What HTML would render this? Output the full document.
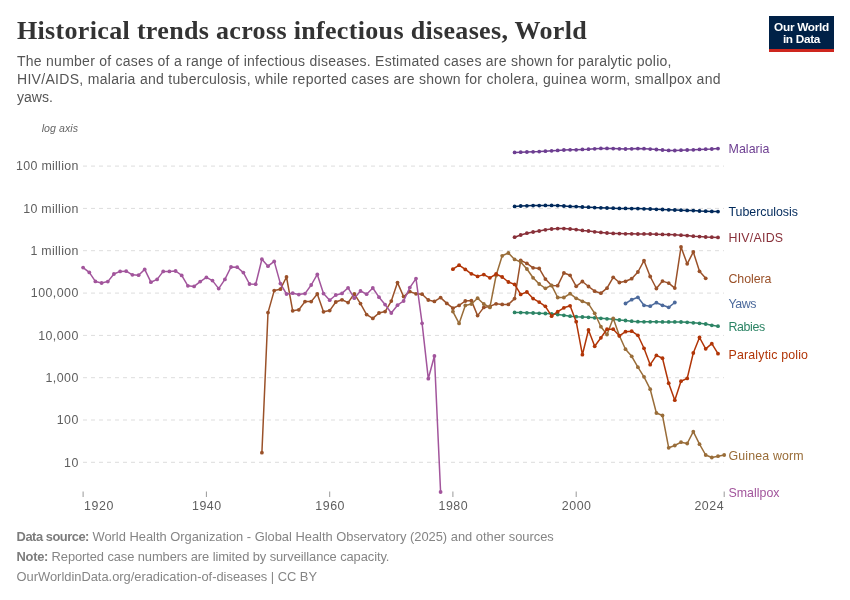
<!DOCTYPE html>
<html lang="en">
<head>
<meta charset="utf-8">
<title>Historical trends across infectious diseases, World</title>
<style>
html,body{margin:0;padding:0;background:#fff;}
body{width:850px;height:600px;position:relative;overflow:hidden;font-family:"Liberation Sans",sans-serif;}
.title{position:absolute;left:17px;top:15.2px;margin:0;font-family:"Liberation Serif",serif;font-weight:bold;font-size:26px;line-height:32px;color:#333;white-space:nowrap;letter-spacing:0.33px;}
.subtitle{position:absolute;left:17px;top:52.35px;margin:0;font-size:14px;line-height:18px;color:#555;white-space:nowrap;}
.subtitle span{display:block;}
#s1{letter-spacing:0.257px;}
#s2{letter-spacing:0.3px;}
#s3{letter-spacing:0.04px;}
.logo{position:absolute;left:769px;top:16px;width:65px;height:36px;background:#002147;color:#fff;font-weight:bold;font-size:11.8px;line-height:12px;text-align:center;letter-spacing:-0.3px;overflow:hidden;}
.logo span{display:block;}
.logo span:first-child{padding-top:4.9px;}
.logo i{position:absolute;left:0;right:0;bottom:0;height:2.8px;background:#ce261e;}
.chart{position:absolute;left:0;top:0;}
.chart text{font-family:"Liberation Sans",sans-serif;}
.footer{position:absolute;left:16.6px;top:527.1px;font-size:12.9px;line-height:20px;color:#858585;white-space:nowrap;}
.footer div{height:20px;}
.footer b{font-weight:bold;color:#7c7c7c;}
#f1 b{letter-spacing:-0.48px;}
#f2 b{letter-spacing:-0.29px;}
#f1 span{letter-spacing:-0.008px;}
#f2 span{letter-spacing:-0.089px;}
#f3 span{letter-spacing:-0.015px;}
</style>
</head>
<body>
<h1 class="title">Historical trends across infectious diseases, World</h1>
<p class="subtitle"><span id="s1">The number of cases of a range of infectious diseases. Estimated cases are shown for paralytic polio,</span><span id="s2">HIV/AIDS, malaria and tuberculosis, while reported cases are shown for cholera, guinea worm, smallpox and</span><span id="s3">yaws.</span></p>
<div class="logo"><span>Our World</span><span>in Data</span><i></i></div>
<svg class="chart" width="850" height="600" viewBox="0 0 850 600">
<g class="grid" stroke="#dddddd" stroke-width="1" stroke-dasharray="4,4" fill="none">
<line x1="83" y1="166.1" x2="724" y2="166.1"/>
<line x1="83" y1="208.4" x2="724" y2="208.4"/>
<line x1="83" y1="250.7" x2="724" y2="250.7"/>
<line x1="83" y1="293.1" x2="724" y2="293.1"/>
<line x1="83" y1="335.4" x2="724" y2="335.4"/>
<line x1="83" y1="377.7" x2="724" y2="377.7"/>
<line x1="83" y1="420.0" x2="724" y2="420.0"/>
<line x1="83" y1="462.3" x2="724" y2="462.3"/>
</g>
<g class="ylab" font-size="12.4" fill="#5e5e5e" text-anchor="end" >
<text x="78.60" y="170.3" letter-spacing="0.3">100 million</text>
<text x="78.60" y="212.6" letter-spacing="0.3">10 million</text>
<text x="78.60" y="254.9" letter-spacing="0.3">1 million</text>
<text x="78.75" y="297.3" letter-spacing="0.45">100,000</text>
<text x="78.75" y="339.6" letter-spacing="0.45">10,000</text>
<text x="78.75" y="381.9" letter-spacing="0.45">1,000</text>
<text x="78.75" y="424.2" letter-spacing="0.45">100</text>
<text x="78.75" y="466.5" letter-spacing="0.45">10</text>
</g>
<text class="logax" x="41.7" y="132.2" font-size="10.6" font-style="italic" fill="#666" textLength="36.3" lengthAdjust="spacing">log axis</text>
<g stroke="#999" stroke-width="1">
<line x1="83.1" y1="491.5" x2="83.1" y2="497"/>
<line x1="206.4" y1="491.5" x2="206.4" y2="497"/>
<line x1="329.7" y1="491.5" x2="329.7" y2="497"/>
<line x1="452.9" y1="491.5" x2="452.9" y2="497"/>
<line x1="576.2" y1="491.5" x2="576.2" y2="497"/>
<line x1="724.2" y1="491.5" x2="724.2" y2="497"/>
</g>
<g class="xlab" font-size="12.4" fill="#5e5e5e" >
<text x="84.1" y="510" text-anchor="start" textLength="29.2" lengthAdjust="spacing">1920</text>
<text x="206.6" y="510" text-anchor="middle" textLength="29.2" lengthAdjust="spacing">1940</text>
<text x="329.9" y="510" text-anchor="middle" textLength="29.2" lengthAdjust="spacing">1960</text>
<text x="453.1" y="510" text-anchor="middle" textLength="29.2" lengthAdjust="spacing">1980</text>
<text x="576.4" y="510" text-anchor="middle" textLength="29.2" lengthAdjust="spacing">2000</text>
<text x="723.6" y="510" text-anchor="end" textLength="29.2" lengthAdjust="spacing">2024</text>
</g>
<g class="series" stroke="#2C8465" fill="#2C8465">
<path d="M514.6,312.4 L520.7,312.6 L526.9,312.8 L533.1,313.0 L539.2,313.3 L545.4,313.5 L551.6,313.8 L557.7,314.5 L563.9,315.3 L570.1,316.2 L576.2,316.7 L582.4,317.0 L588.5,317.3 L594.7,317.8 L600.9,318.3 L607.0,318.8 L613.2,319.3 L619.4,320.0 L625.5,320.5 L631.7,321.2 L637.9,321.7 L644.0,321.8 L650.2,321.8 L656.4,321.8 L662.5,321.9 L668.7,321.9 L674.8,321.9 L681.0,322.0 L687.2,322.3 L693.3,322.8 L699.5,323.3 L705.7,324.0 L711.8,325.3 L718.0,326.2" fill="none" stroke-width="1.5" stroke-linejoin="round" stroke-linecap="round"/>
<g stroke="none"><circle cx="514.6" cy="312.4" r="1.9"/><circle cx="520.7" cy="312.6" r="1.9"/><circle cx="526.9" cy="312.8" r="1.9"/><circle cx="533.1" cy="313.0" r="1.9"/><circle cx="539.2" cy="313.3" r="1.9"/><circle cx="545.4" cy="313.5" r="1.9"/><circle cx="551.6" cy="313.8" r="1.9"/><circle cx="557.7" cy="314.5" r="1.9"/><circle cx="563.9" cy="315.3" r="1.9"/><circle cx="570.1" cy="316.2" r="1.9"/><circle cx="576.2" cy="316.7" r="1.9"/><circle cx="582.4" cy="317.0" r="1.9"/><circle cx="588.5" cy="317.3" r="1.9"/><circle cx="594.7" cy="317.8" r="1.9"/><circle cx="600.9" cy="318.3" r="1.9"/><circle cx="607.0" cy="318.8" r="1.9"/><circle cx="613.2" cy="319.3" r="1.9"/><circle cx="619.4" cy="320.0" r="1.9"/><circle cx="625.5" cy="320.5" r="1.9"/><circle cx="631.7" cy="321.2" r="1.9"/><circle cx="637.9" cy="321.7" r="1.9"/><circle cx="644.0" cy="321.8" r="1.9"/><circle cx="650.2" cy="321.8" r="1.9"/><circle cx="656.4" cy="321.8" r="1.9"/><circle cx="662.5" cy="321.9" r="1.9"/><circle cx="668.7" cy="321.9" r="1.9"/><circle cx="674.8" cy="321.9" r="1.9"/><circle cx="681.0" cy="322.0" r="1.9"/><circle cx="687.2" cy="322.3" r="1.9"/><circle cx="693.3" cy="322.8" r="1.9"/><circle cx="699.5" cy="323.3" r="1.9"/><circle cx="705.7" cy="324.0" r="1.9"/><circle cx="711.8" cy="325.3" r="1.9"/><circle cx="718.0" cy="326.2" r="1.9"/></g>
<text x="728.5" y="330.7" font-size="12.4" stroke="none" textLength="36.7" lengthAdjust="spacing">Rabies</text>
</g>
<g class="series" stroke="#9A5129" fill="#9A5129">
<path d="M261.9,452.7 L268.0,312.6 L274.2,290.6 L280.4,289.2 L286.5,277.0 L292.7,310.8 L298.8,309.8 L305.0,301.6 L311.2,301.6 L317.3,294.0 L323.5,311.8 L329.7,310.6 L335.8,302.0 L342.0,299.8 L348.1,302.6 L354.3,293.8 L360.5,303.6 L366.6,314.6 L372.8,318.4 L379.0,313.0 L385.1,311.6 L391.3,301.1 L397.5,282.6 L403.6,296.6 L409.8,291.6 L416.0,293.8 L422.1,294.2 L428.3,300.0 L434.4,301.4 L440.6,297.6 L446.8,303.4 L452.9,308.2 L459.1,305.4 L465.3,301.0 L471.4,300.6 L477.6,315.6 L483.8,307.4 L489.9,306.4 L496.1,303.8 L502.2,304.4 L508.4,304.4 L514.6,298.6 L520.7,260.4 L526.9,263.4 L533.1,267.8 L539.2,268.4 L545.4,279.1 L551.6,285.6 L557.7,285.7 L563.9,273.0 L570.1,275.3 L576.2,286.3 L582.4,281.5 L588.5,286.5 L594.7,291.2 L600.9,293.2 L607.0,288.2 L613.2,277.3 L619.4,282.5 L625.5,281.3 L631.7,278.7 L637.9,272.0 L644.0,260.7 L650.2,276.5 L656.4,288.5 L662.5,281.1 L668.7,283.1 L674.8,288.1 L681.0,247.0 L687.2,263.8 L693.3,252.0 L699.5,271.3 L705.7,278.3" fill="none" stroke-width="1.5" stroke-linejoin="round" stroke-linecap="round"/>
<g stroke="none"><circle cx="261.9" cy="452.7" r="1.9"/><circle cx="268.0" cy="312.6" r="1.9"/><circle cx="274.2" cy="290.6" r="1.9"/><circle cx="280.4" cy="289.2" r="1.9"/><circle cx="286.5" cy="277.0" r="1.9"/><circle cx="292.7" cy="310.8" r="1.9"/><circle cx="298.8" cy="309.8" r="1.9"/><circle cx="305.0" cy="301.6" r="1.9"/><circle cx="311.2" cy="301.6" r="1.9"/><circle cx="317.3" cy="294.0" r="1.9"/><circle cx="323.5" cy="311.8" r="1.9"/><circle cx="329.7" cy="310.6" r="1.9"/><circle cx="335.8" cy="302.0" r="1.9"/><circle cx="342.0" cy="299.8" r="1.9"/><circle cx="348.1" cy="302.6" r="1.9"/><circle cx="354.3" cy="293.8" r="1.9"/><circle cx="360.5" cy="303.6" r="1.9"/><circle cx="366.6" cy="314.6" r="1.9"/><circle cx="372.8" cy="318.4" r="1.9"/><circle cx="379.0" cy="313.0" r="1.9"/><circle cx="385.1" cy="311.6" r="1.9"/><circle cx="391.3" cy="301.1" r="1.9"/><circle cx="397.5" cy="282.6" r="1.9"/><circle cx="403.6" cy="296.6" r="1.9"/><circle cx="409.8" cy="291.6" r="1.9"/><circle cx="416.0" cy="293.8" r="1.9"/><circle cx="422.1" cy="294.2" r="1.9"/><circle cx="428.3" cy="300.0" r="1.9"/><circle cx="434.4" cy="301.4" r="1.9"/><circle cx="440.6" cy="297.6" r="1.9"/><circle cx="446.8" cy="303.4" r="1.9"/><circle cx="452.9" cy="308.2" r="1.9"/><circle cx="459.1" cy="305.4" r="1.9"/><circle cx="465.3" cy="301.0" r="1.9"/><circle cx="471.4" cy="300.6" r="1.9"/><circle cx="477.6" cy="315.6" r="1.9"/><circle cx="483.8" cy="307.4" r="1.9"/><circle cx="489.9" cy="306.4" r="1.9"/><circle cx="496.1" cy="303.8" r="1.9"/><circle cx="502.2" cy="304.4" r="1.9"/><circle cx="508.4" cy="304.4" r="1.9"/><circle cx="514.6" cy="298.6" r="1.9"/><circle cx="520.7" cy="260.4" r="1.9"/><circle cx="526.9" cy="263.4" r="1.9"/><circle cx="533.1" cy="267.8" r="1.9"/><circle cx="539.2" cy="268.4" r="1.9"/><circle cx="545.4" cy="279.1" r="1.9"/><circle cx="551.6" cy="285.6" r="1.9"/><circle cx="557.7" cy="285.7" r="1.9"/><circle cx="563.9" cy="273.0" r="1.9"/><circle cx="570.1" cy="275.3" r="1.9"/><circle cx="576.2" cy="286.3" r="1.9"/><circle cx="582.4" cy="281.5" r="1.9"/><circle cx="588.5" cy="286.5" r="1.9"/><circle cx="594.7" cy="291.2" r="1.9"/><circle cx="600.9" cy="293.2" r="1.9"/><circle cx="607.0" cy="288.2" r="1.9"/><circle cx="613.2" cy="277.3" r="1.9"/><circle cx="619.4" cy="282.5" r="1.9"/><circle cx="625.5" cy="281.3" r="1.9"/><circle cx="631.7" cy="278.7" r="1.9"/><circle cx="637.9" cy="272.0" r="1.9"/><circle cx="644.0" cy="260.7" r="1.9"/><circle cx="650.2" cy="276.5" r="1.9"/><circle cx="656.4" cy="288.5" r="1.9"/><circle cx="662.5" cy="281.1" r="1.9"/><circle cx="668.7" cy="283.1" r="1.9"/><circle cx="674.8" cy="288.1" r="1.9"/><circle cx="681.0" cy="247.0" r="1.9"/><circle cx="687.2" cy="263.8" r="1.9"/><circle cx="693.3" cy="252.0" r="1.9"/><circle cx="699.5" cy="271.3" r="1.9"/><circle cx="705.7" cy="278.3" r="1.9"/></g>
<text x="728.5" y="283.1" font-size="12.4" stroke="none" textLength="43" lengthAdjust="spacing">Cholera</text>
</g>
<g class="series" stroke="#996D39" fill="#996D39">
<path d="M452.9,311.6 L459.1,323.4 L465.3,305.4 L471.4,304.0 L477.6,298.2 L483.8,304.0 L489.9,307.4 L496.1,275.5 L502.2,255.8 L508.4,253.0 L514.6,259.4 L520.7,262.0 L526.9,269.0 L533.1,277.8 L539.2,284.0 L545.4,288.3 L551.6,285.4 L557.7,297.5 L563.9,297.5 L570.1,293.7 L576.2,298.3 L582.4,301.3 L588.5,303.8 L594.7,313.3 L600.9,326.7 L607.0,334.5 L613.2,318.3 L619.4,335.8 L625.5,349.2 L631.7,356.3 L637.9,367.2 L644.0,376.8 L650.2,389.2 L656.4,413.0 L662.5,415.5 L668.7,447.8 L674.8,445.5 L681.0,442.2 L687.2,443.5 L693.3,431.7 L699.5,444.2 L705.7,455.0 L711.8,457.5 L718.0,456.2 L724.2,455.0" fill="none" stroke-width="1.5" stroke-linejoin="round" stroke-linecap="round"/>
<g stroke="none"><circle cx="452.9" cy="311.6" r="1.9"/><circle cx="459.1" cy="323.4" r="1.9"/><circle cx="465.3" cy="305.4" r="1.9"/><circle cx="471.4" cy="304.0" r="1.9"/><circle cx="477.6" cy="298.2" r="1.9"/><circle cx="483.8" cy="304.0" r="1.9"/><circle cx="489.9" cy="307.4" r="1.9"/><circle cx="496.1" cy="275.5" r="1.9"/><circle cx="502.2" cy="255.8" r="1.9"/><circle cx="508.4" cy="253.0" r="1.9"/><circle cx="514.6" cy="259.4" r="1.9"/><circle cx="520.7" cy="262.0" r="1.9"/><circle cx="526.9" cy="269.0" r="1.9"/><circle cx="533.1" cy="277.8" r="1.9"/><circle cx="539.2" cy="284.0" r="1.9"/><circle cx="545.4" cy="288.3" r="1.9"/><circle cx="551.6" cy="285.4" r="1.9"/><circle cx="557.7" cy="297.5" r="1.9"/><circle cx="563.9" cy="297.5" r="1.9"/><circle cx="570.1" cy="293.7" r="1.9"/><circle cx="576.2" cy="298.3" r="1.9"/><circle cx="582.4" cy="301.3" r="1.9"/><circle cx="588.5" cy="303.8" r="1.9"/><circle cx="594.7" cy="313.3" r="1.9"/><circle cx="600.9" cy="326.7" r="1.9"/><circle cx="607.0" cy="334.5" r="1.9"/><circle cx="613.2" cy="318.3" r="1.9"/><circle cx="619.4" cy="335.8" r="1.9"/><circle cx="625.5" cy="349.2" r="1.9"/><circle cx="631.7" cy="356.3" r="1.9"/><circle cx="637.9" cy="367.2" r="1.9"/><circle cx="644.0" cy="376.8" r="1.9"/><circle cx="650.2" cy="389.2" r="1.9"/><circle cx="656.4" cy="413.0" r="1.9"/><circle cx="662.5" cy="415.5" r="1.9"/><circle cx="668.7" cy="447.8" r="1.9"/><circle cx="674.8" cy="445.5" r="1.9"/><circle cx="681.0" cy="442.2" r="1.9"/><circle cx="687.2" cy="443.5" r="1.9"/><circle cx="693.3" cy="431.7" r="1.9"/><circle cx="699.5" cy="444.2" r="1.9"/><circle cx="705.7" cy="455.0" r="1.9"/><circle cx="711.8" cy="457.5" r="1.9"/><circle cx="718.0" cy="456.2" r="1.9"/><circle cx="724.2" cy="455.0" r="1.9"/></g>
<text x="728.5" y="459.7" font-size="12.4" stroke="none" textLength="75.2" lengthAdjust="spacing">Guinea worm</text>
</g>
<g class="series" stroke="#883039" fill="#883039">
<path d="M514.6,237.2 L520.7,235.0 L526.9,233.2 L533.1,232.0 L539.2,231.0 L545.4,229.8 L551.6,229.0 L557.7,228.6 L563.9,228.6 L570.1,229.0 L576.2,229.6 L582.4,230.4 L588.5,231.0 L594.7,231.8 L600.9,232.4 L607.0,233.0 L613.2,233.4 L619.4,233.6 L625.5,233.8 L631.7,233.8 L637.9,234.0 L644.0,233.9 L650.2,234.0 L656.4,234.2 L662.5,234.4 L668.7,234.6 L674.8,234.8 L681.0,235.2 L687.2,235.6 L693.3,236.2 L699.5,236.6 L705.7,237.0 L711.8,237.2 L718.0,237.4" fill="none" stroke-width="1.5" stroke-linejoin="round" stroke-linecap="round"/>
<g stroke="none"><circle cx="514.6" cy="237.2" r="1.9"/><circle cx="520.7" cy="235.0" r="1.9"/><circle cx="526.9" cy="233.2" r="1.9"/><circle cx="533.1" cy="232.0" r="1.9"/><circle cx="539.2" cy="231.0" r="1.9"/><circle cx="545.4" cy="229.8" r="1.9"/><circle cx="551.6" cy="229.0" r="1.9"/><circle cx="557.7" cy="228.6" r="1.9"/><circle cx="563.9" cy="228.6" r="1.9"/><circle cx="570.1" cy="229.0" r="1.9"/><circle cx="576.2" cy="229.6" r="1.9"/><circle cx="582.4" cy="230.4" r="1.9"/><circle cx="588.5" cy="231.0" r="1.9"/><circle cx="594.7" cy="231.8" r="1.9"/><circle cx="600.9" cy="232.4" r="1.9"/><circle cx="607.0" cy="233.0" r="1.9"/><circle cx="613.2" cy="233.4" r="1.9"/><circle cx="619.4" cy="233.6" r="1.9"/><circle cx="625.5" cy="233.8" r="1.9"/><circle cx="631.7" cy="233.8" r="1.9"/><circle cx="637.9" cy="234.0" r="1.9"/><circle cx="644.0" cy="233.9" r="1.9"/><circle cx="650.2" cy="234.0" r="1.9"/><circle cx="656.4" cy="234.2" r="1.9"/><circle cx="662.5" cy="234.4" r="1.9"/><circle cx="668.7" cy="234.6" r="1.9"/><circle cx="674.8" cy="234.8" r="1.9"/><circle cx="681.0" cy="235.2" r="1.9"/><circle cx="687.2" cy="235.6" r="1.9"/><circle cx="693.3" cy="236.2" r="1.9"/><circle cx="699.5" cy="236.6" r="1.9"/><circle cx="705.7" cy="237.0" r="1.9"/><circle cx="711.8" cy="237.2" r="1.9"/><circle cx="718.0" cy="237.4" r="1.9"/></g>
<text x="728.5" y="242.0" font-size="12.4" stroke="none" textLength="54.6" lengthAdjust="spacing">HIV/AIDS</text>
</g>
<g class="series" stroke="#6D3E91" fill="#6D3E91">
<path d="M514.6,152.4 L520.7,152.2 L526.9,152.0 L533.1,151.8 L539.2,151.6 L545.4,151.2 L551.6,150.8 L557.7,150.4 L563.9,150.0 L570.1,149.8 L576.2,149.8 L582.4,149.4 L588.5,149.2 L594.7,148.8 L600.9,148.4 L607.0,148.4 L613.2,148.6 L619.4,148.8 L625.5,149.0 L631.7,148.8 L637.9,148.6 L644.0,148.7 L650.2,149.1 L656.4,149.5 L662.5,150.0 L668.7,150.4 L674.8,150.5 L681.0,150.2 L687.2,150.0 L693.3,149.8 L699.5,149.4 L705.7,149.2 L711.8,149.0 L718.0,148.6" fill="none" stroke-width="1.5" stroke-linejoin="round" stroke-linecap="round"/>
<g stroke="none"><circle cx="514.6" cy="152.4" r="1.9"/><circle cx="520.7" cy="152.2" r="1.9"/><circle cx="526.9" cy="152.0" r="1.9"/><circle cx="533.1" cy="151.8" r="1.9"/><circle cx="539.2" cy="151.6" r="1.9"/><circle cx="545.4" cy="151.2" r="1.9"/><circle cx="551.6" cy="150.8" r="1.9"/><circle cx="557.7" cy="150.4" r="1.9"/><circle cx="563.9" cy="150.0" r="1.9"/><circle cx="570.1" cy="149.8" r="1.9"/><circle cx="576.2" cy="149.8" r="1.9"/><circle cx="582.4" cy="149.4" r="1.9"/><circle cx="588.5" cy="149.2" r="1.9"/><circle cx="594.7" cy="148.8" r="1.9"/><circle cx="600.9" cy="148.4" r="1.9"/><circle cx="607.0" cy="148.4" r="1.9"/><circle cx="613.2" cy="148.6" r="1.9"/><circle cx="619.4" cy="148.8" r="1.9"/><circle cx="625.5" cy="149.0" r="1.9"/><circle cx="631.7" cy="148.8" r="1.9"/><circle cx="637.9" cy="148.6" r="1.9"/><circle cx="644.0" cy="148.7" r="1.9"/><circle cx="650.2" cy="149.1" r="1.9"/><circle cx="656.4" cy="149.5" r="1.9"/><circle cx="662.5" cy="150.0" r="1.9"/><circle cx="668.7" cy="150.4" r="1.9"/><circle cx="674.8" cy="150.5" r="1.9"/><circle cx="681.0" cy="150.2" r="1.9"/><circle cx="687.2" cy="150.0" r="1.9"/><circle cx="693.3" cy="149.8" r="1.9"/><circle cx="699.5" cy="149.4" r="1.9"/><circle cx="705.7" cy="149.2" r="1.9"/><circle cx="711.8" cy="149.0" r="1.9"/><circle cx="718.0" cy="148.6" r="1.9"/></g>
<text x="728.5" y="153.4" font-size="12.4" stroke="none" textLength="41" lengthAdjust="spacing">Malaria</text>
</g>
<g class="series" stroke="#B13507" fill="#B13507">
<path d="M452.9,269.2 L459.1,265.2 L465.3,269.4 L471.4,273.8 L477.6,276.4 L483.8,274.6 L489.9,277.8 L496.1,274.0 L502.2,277.0 L508.4,282.0 L514.6,284.4 L520.7,294.4 L526.9,292.0 L533.1,298.6 L539.2,302.1 L545.4,306.3 L551.6,316.2 L557.7,311.7 L563.9,307.8 L570.1,305.8 L576.2,321.7 L582.4,354.7 L588.5,330.0 L594.7,346.3 L600.9,337.8 L607.0,329.2 L613.2,329.2 L619.4,335.8 L625.5,331.7 L631.7,331.2 L637.9,335.3 L644.0,348.3 L650.2,364.7 L656.4,355.4 L662.5,358.2 L668.7,383.2 L674.8,400.2 L681.0,381.2 L687.2,378.4 L693.3,353.0 L699.5,337.5 L705.7,348.8 L711.8,343.7 L718.0,353.7" fill="none" stroke-width="1.5" stroke-linejoin="round" stroke-linecap="round"/>
<g stroke="none"><circle cx="452.9" cy="269.2" r="1.9"/><circle cx="459.1" cy="265.2" r="1.9"/><circle cx="465.3" cy="269.4" r="1.9"/><circle cx="471.4" cy="273.8" r="1.9"/><circle cx="477.6" cy="276.4" r="1.9"/><circle cx="483.8" cy="274.6" r="1.9"/><circle cx="489.9" cy="277.8" r="1.9"/><circle cx="496.1" cy="274.0" r="1.9"/><circle cx="502.2" cy="277.0" r="1.9"/><circle cx="508.4" cy="282.0" r="1.9"/><circle cx="514.6" cy="284.4" r="1.9"/><circle cx="520.7" cy="294.4" r="1.9"/><circle cx="526.9" cy="292.0" r="1.9"/><circle cx="533.1" cy="298.6" r="1.9"/><circle cx="539.2" cy="302.1" r="1.9"/><circle cx="545.4" cy="306.3" r="1.9"/><circle cx="551.6" cy="316.2" r="1.9"/><circle cx="557.7" cy="311.7" r="1.9"/><circle cx="563.9" cy="307.8" r="1.9"/><circle cx="570.1" cy="305.8" r="1.9"/><circle cx="576.2" cy="321.7" r="1.9"/><circle cx="582.4" cy="354.7" r="1.9"/><circle cx="588.5" cy="330.0" r="1.9"/><circle cx="594.7" cy="346.3" r="1.9"/><circle cx="600.9" cy="337.8" r="1.9"/><circle cx="607.0" cy="329.2" r="1.9"/><circle cx="613.2" cy="329.2" r="1.9"/><circle cx="619.4" cy="335.8" r="1.9"/><circle cx="625.5" cy="331.7" r="1.9"/><circle cx="631.7" cy="331.2" r="1.9"/><circle cx="637.9" cy="335.3" r="1.9"/><circle cx="644.0" cy="348.3" r="1.9"/><circle cx="650.2" cy="364.7" r="1.9"/><circle cx="656.4" cy="355.4" r="1.9"/><circle cx="662.5" cy="358.2" r="1.9"/><circle cx="668.7" cy="383.2" r="1.9"/><circle cx="674.8" cy="400.2" r="1.9"/><circle cx="681.0" cy="381.2" r="1.9"/><circle cx="687.2" cy="378.4" r="1.9"/><circle cx="693.3" cy="353.0" r="1.9"/><circle cx="699.5" cy="337.5" r="1.9"/><circle cx="705.7" cy="348.8" r="1.9"/><circle cx="711.8" cy="343.7" r="1.9"/><circle cx="718.0" cy="353.7" r="1.9"/></g>
<text x="728.5" y="358.6" font-size="12.4" stroke="none" textLength="79.5" lengthAdjust="spacing">Paralytic polio</text>
</g>
<g class="series" stroke="#A2559C" fill="#A2559C">
<path d="M83.1,267.6 L89.3,272.4 L95.4,281.4 L101.6,283.0 L107.8,281.6 L113.9,274.0 L120.1,271.4 L126.2,271.2 L132.4,274.8 L138.6,275.2 L144.7,269.4 L150.9,282.2 L157.1,279.4 L163.2,271.4 L169.4,271.4 L175.6,271.0 L181.7,275.4 L187.9,285.8 L194.1,286.4 L200.2,281.6 L206.4,277.4 L212.5,280.6 L218.7,288.6 L224.9,279.4 L231.0,267.0 L237.2,267.2 L243.4,272.6 L249.5,284.0 L255.7,284.2 L261.9,259.2 L268.0,266.2 L274.2,261.4 L280.4,283.6 L286.5,294.0 L292.7,293.2 L298.8,294.6 L305.0,293.6 L311.2,285.0 L317.3,274.4 L323.5,293.6 L329.7,300.2 L335.8,295.0 L342.0,293.4 L348.1,287.8 L354.3,298.2 L360.5,291.0 L366.6,294.2 L372.8,288.0 L379.0,297.2 L385.1,304.6 L391.3,313.0 L397.5,305.2 L403.6,301.0 L409.8,287.6 L416.0,278.6 L422.1,323.3 L428.3,378.7 L434.4,356.0 L440.6,492.0" fill="none" stroke-width="1.5" stroke-linejoin="round" stroke-linecap="round"/>
<g stroke="none"><circle cx="83.1" cy="267.6" r="1.9"/><circle cx="89.3" cy="272.4" r="1.9"/><circle cx="95.4" cy="281.4" r="1.9"/><circle cx="101.6" cy="283.0" r="1.9"/><circle cx="107.8" cy="281.6" r="1.9"/><circle cx="113.9" cy="274.0" r="1.9"/><circle cx="120.1" cy="271.4" r="1.9"/><circle cx="126.2" cy="271.2" r="1.9"/><circle cx="132.4" cy="274.8" r="1.9"/><circle cx="138.6" cy="275.2" r="1.9"/><circle cx="144.7" cy="269.4" r="1.9"/><circle cx="150.9" cy="282.2" r="1.9"/><circle cx="157.1" cy="279.4" r="1.9"/><circle cx="163.2" cy="271.4" r="1.9"/><circle cx="169.4" cy="271.4" r="1.9"/><circle cx="175.6" cy="271.0" r="1.9"/><circle cx="181.7" cy="275.4" r="1.9"/><circle cx="187.9" cy="285.8" r="1.9"/><circle cx="194.1" cy="286.4" r="1.9"/><circle cx="200.2" cy="281.6" r="1.9"/><circle cx="206.4" cy="277.4" r="1.9"/><circle cx="212.5" cy="280.6" r="1.9"/><circle cx="218.7" cy="288.6" r="1.9"/><circle cx="224.9" cy="279.4" r="1.9"/><circle cx="231.0" cy="267.0" r="1.9"/><circle cx="237.2" cy="267.2" r="1.9"/><circle cx="243.4" cy="272.6" r="1.9"/><circle cx="249.5" cy="284.0" r="1.9"/><circle cx="255.7" cy="284.2" r="1.9"/><circle cx="261.9" cy="259.2" r="1.9"/><circle cx="268.0" cy="266.2" r="1.9"/><circle cx="274.2" cy="261.4" r="1.9"/><circle cx="280.4" cy="283.6" r="1.9"/><circle cx="286.5" cy="294.0" r="1.9"/><circle cx="292.7" cy="293.2" r="1.9"/><circle cx="298.8" cy="294.6" r="1.9"/><circle cx="305.0" cy="293.6" r="1.9"/><circle cx="311.2" cy="285.0" r="1.9"/><circle cx="317.3" cy="274.4" r="1.9"/><circle cx="323.5" cy="293.6" r="1.9"/><circle cx="329.7" cy="300.2" r="1.9"/><circle cx="335.8" cy="295.0" r="1.9"/><circle cx="342.0" cy="293.4" r="1.9"/><circle cx="348.1" cy="287.8" r="1.9"/><circle cx="354.3" cy="298.2" r="1.9"/><circle cx="360.5" cy="291.0" r="1.9"/><circle cx="366.6" cy="294.2" r="1.9"/><circle cx="372.8" cy="288.0" r="1.9"/><circle cx="379.0" cy="297.2" r="1.9"/><circle cx="385.1" cy="304.6" r="1.9"/><circle cx="391.3" cy="313.0" r="1.9"/><circle cx="397.5" cy="305.2" r="1.9"/><circle cx="403.6" cy="301.0" r="1.9"/><circle cx="409.8" cy="287.6" r="1.9"/><circle cx="416.0" cy="278.6" r="1.9"/><circle cx="422.1" cy="323.3" r="1.9"/><circle cx="428.3" cy="378.7" r="1.9"/><circle cx="434.4" cy="356.0" r="1.9"/><circle cx="440.6" cy="492.0" r="1.9"/></g>
<text x="728.5" y="496.9" font-size="12.4" stroke="none" textLength="51" lengthAdjust="spacing">Smallpox</text>
</g>
<g class="series" stroke="#00295B" fill="#00295B">
<path d="M514.6,206.4 L520.7,206.0 L526.9,205.8 L533.1,205.6 L539.2,205.6 L545.4,205.4 L551.6,205.4 L557.7,205.6 L563.9,206.0 L570.1,206.4 L576.2,206.6 L582.4,207.0 L588.5,207.2 L594.7,207.6 L600.9,207.8 L607.0,208.0 L613.2,208.2 L619.4,208.4 L625.5,208.4 L631.7,208.6 L637.9,208.6 L644.0,208.8 L650.2,209.0 L656.4,209.3 L662.5,209.5 L668.7,209.8 L674.8,210.0 L681.0,210.2 L687.2,210.4 L693.3,210.6 L699.5,211.0 L705.7,211.2 L711.8,211.4 L718.0,211.6" fill="none" stroke-width="1.5" stroke-linejoin="round" stroke-linecap="round"/>
<g stroke="none"><circle cx="514.6" cy="206.4" r="1.9"/><circle cx="520.7" cy="206.0" r="1.9"/><circle cx="526.9" cy="205.8" r="1.9"/><circle cx="533.1" cy="205.6" r="1.9"/><circle cx="539.2" cy="205.6" r="1.9"/><circle cx="545.4" cy="205.4" r="1.9"/><circle cx="551.6" cy="205.4" r="1.9"/><circle cx="557.7" cy="205.6" r="1.9"/><circle cx="563.9" cy="206.0" r="1.9"/><circle cx="570.1" cy="206.4" r="1.9"/><circle cx="576.2" cy="206.6" r="1.9"/><circle cx="582.4" cy="207.0" r="1.9"/><circle cx="588.5" cy="207.2" r="1.9"/><circle cx="594.7" cy="207.6" r="1.9"/><circle cx="600.9" cy="207.8" r="1.9"/><circle cx="607.0" cy="208.0" r="1.9"/><circle cx="613.2" cy="208.2" r="1.9"/><circle cx="619.4" cy="208.4" r="1.9"/><circle cx="625.5" cy="208.4" r="1.9"/><circle cx="631.7" cy="208.6" r="1.9"/><circle cx="637.9" cy="208.6" r="1.9"/><circle cx="644.0" cy="208.8" r="1.9"/><circle cx="650.2" cy="209.0" r="1.9"/><circle cx="656.4" cy="209.3" r="1.9"/><circle cx="662.5" cy="209.5" r="1.9"/><circle cx="668.7" cy="209.8" r="1.9"/><circle cx="674.8" cy="210.0" r="1.9"/><circle cx="681.0" cy="210.2" r="1.9"/><circle cx="687.2" cy="210.4" r="1.9"/><circle cx="693.3" cy="210.6" r="1.9"/><circle cx="699.5" cy="211.0" r="1.9"/><circle cx="705.7" cy="211.2" r="1.9"/><circle cx="711.8" cy="211.4" r="1.9"/><circle cx="718.0" cy="211.6" r="1.9"/></g>
<text x="728.5" y="216.4" font-size="12.4" stroke="none" textLength="69.4" lengthAdjust="spacing">Tuberculosis</text>
</g>
<g class="series" stroke="#4C6A9C" fill="#4C6A9C">
<path d="M625.5,303.5 L631.7,299.7 L637.9,297.3 L644.0,305.3 L650.2,306.2 L656.4,302.7 L662.5,305.3 L668.7,307.3 L674.8,302.5" fill="none" stroke-width="1.5" stroke-linejoin="round" stroke-linecap="round"/>
<g stroke="none"><circle cx="625.5" cy="303.5" r="1.9"/><circle cx="631.7" cy="299.7" r="1.9"/><circle cx="637.9" cy="297.3" r="1.9"/><circle cx="644.0" cy="305.3" r="1.9"/><circle cx="650.2" cy="306.2" r="1.9"/><circle cx="656.4" cy="302.7" r="1.9"/><circle cx="662.5" cy="305.3" r="1.9"/><circle cx="668.7" cy="307.3" r="1.9"/><circle cx="674.8" cy="302.5" r="1.9"/></g>
<text x="728.5" y="307.7" font-size="12.4" stroke="none" textLength="27.9" lengthAdjust="spacing">Yaws</text>
</g>
</svg>
<div class="footer">
<div id="f1"><b>Data source:</b><span> World Health Organization - Global Health Observatory (2025) and other sources</span></div>
<div id="f2"><b>Note:</b><span> Reported case numbers are limited by surveillance capacity.</span></div>
<div id="f3"><span>OurWorldinData.org/eradication-of-diseases | CC BY</span></div>
</div>
</body>
</html>
